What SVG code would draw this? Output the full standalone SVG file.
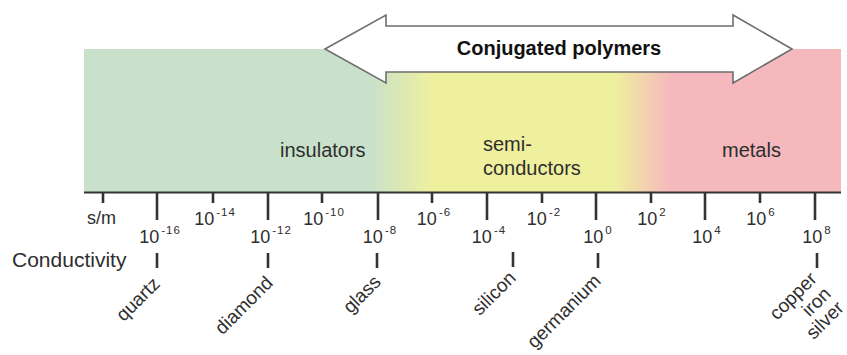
<svg xmlns="http://www.w3.org/2000/svg" width="847" height="355" viewBox="0 0 847 355">
<defs>
<linearGradient id="bandGrad" x1="84" y1="0" x2="841" y2="0" gradientUnits="userSpaceOnUse">
<stop offset="0" stop-color="#c9e1cb"/>
<stop offset="0.378" stop-color="#c9e1cb"/>
<stop offset="0.46" stop-color="#eef09e"/>
<stop offset="0.70" stop-color="#eef09e"/>
<stop offset="0.735" stop-color="#f2d6ac"/>
<stop offset="0.775" stop-color="#f5b9bd"/>
<stop offset="1" stop-color="#f5b9bd"/>
</linearGradient>
<style>
text{font-family:"Liberation Sans",Arial,sans-serif;fill:#2e2e2e}
.region{font-size:20px}
.tick{stroke:#333;stroke-width:2.6}
.axis{stroke:#333;stroke-width:2.2}
.num{font-size:18px;text-anchor:middle}
.sup{font-size:11.5px;letter-spacing:1px}
.mat{font-size:19px;text-anchor:end}
.title{font-size:20px;font-weight:bold;fill:#111;text-anchor:middle}
</style>
</defs>

<g id="band">
<rect x="84" y="49" width="757" height="143" fill="url(#bandGrad)"/>
<text class="region" x="280" y="157">insulators</text>
<text class="region" x="483" y="151">semi-</text>
<text class="region" x="483" y="175">conductors</text>
<text class="region" x="722" y="157">metals</text>
</g>

<g id="conjugated-polymers">
<polygon points="325,49 386,15 386,26 733,26 733,15 792,49 733,83 733,72 386,72 386,83" fill="#ffffff" stroke="#6e6e6e" stroke-width="1.6" stroke-linejoin="miter"/>
<text class="title" x="559" y="55">Conjugated polymers</text>
</g>

<g id="connectors">
<line class="axis" x1="84" y1="192.5" x2="841" y2="192.5"/>
<line class="tick" x1="103" y1="192" x2="103" y2="203"/>
<line class="tick" x1="157" y1="192" x2="157" y2="220"/>
<line class="tick" x1="213" y1="192" x2="213" y2="203"/>
<line class="tick" x1="268" y1="192" x2="268" y2="220"/>
<line class="tick" x1="322" y1="192" x2="322" y2="203"/>
<line class="tick" x1="378" y1="192" x2="378" y2="220"/>
<line class="tick" x1="432" y1="192" x2="432" y2="203"/>
<line class="tick" x1="487" y1="192" x2="487" y2="220"/>
<line class="tick" x1="542" y1="192" x2="542" y2="203"/>
<line class="tick" x1="596" y1="192" x2="596" y2="220"/>
<line class="tick" x1="651" y1="192" x2="651" y2="203"/>
<line class="tick" x1="705" y1="192" x2="705" y2="220"/>
<line class="tick" x1="760" y1="192" x2="760" y2="203"/>
<line class="tick" x1="815" y1="192" x2="815" y2="220"/>
<line class="tick" x1="157" y1="253" x2="157" y2="268"/>
<line class="tick" x1="268" y1="253" x2="268" y2="268"/>
<line class="tick" x1="377" y1="253" x2="377" y2="268"/>
<line class="tick" x1="513" y1="252" x2="513" y2="267"/>
<line class="tick" x1="598" y1="253" x2="598" y2="268"/>
<line class="tick" x1="817" y1="253" x2="817" y2="268"/>
</g>

<g id="scale-labels">
<text x="87" y="224" font-size="18">s/m</text>
<text x="12" y="267" font-size="21">Conductivity</text>
<text class="num" x="215" y="225">10<tspan class="sup" dx="2" dy="-9">-14</tspan></text>
<text class="num" x="324" y="225">10<tspan class="sup" dx="2" dy="-9">-10</tspan></text>
<text class="num" x="434" y="225">10<tspan class="sup" dx="2" dy="-9">-6</tspan></text>
<text class="num" x="544" y="225">10<tspan class="sup" dx="2" dy="-9">-2</tspan></text>
<text class="num" x="652" y="225">10<tspan class="sup" dx="2" dy="-9">2</tspan></text>
<text class="num" x="761" y="225">10<tspan class="sup" dx="2" dy="-9">6</tspan></text>
<text class="num" x="160" y="243">10<tspan class="sup" dx="2" dy="-9">-16</tspan></text>
<text class="num" x="271" y="243">10<tspan class="sup" dx="2" dy="-9">-12</tspan></text>
<text class="num" x="380" y="243">10<tspan class="sup" dx="2" dy="-9">-8</tspan></text>
<text class="num" x="489" y="243">10<tspan class="sup" dx="2" dy="-9">-4</tspan></text>
<text class="num" x="598" y="243">10<tspan class="sup" dx="2" dy="-9">0</tspan></text>
<text class="num" x="707" y="243">10<tspan class="sup" dx="2" dy="-9">4</tspan></text>
<text class="num" x="817" y="243">10<tspan class="sup" dx="2" dy="-9">8</tspan></text>
</g>

<g id="quartz"><text class="mat" transform="translate(161,285) rotate(-45)">quartz</text></g>
<g id="diamond"><text class="mat" transform="translate(274,284) rotate(-45)">diamond</text></g>
<g id="glass"><text class="mat" transform="translate(382,283) rotate(-45)">glass</text></g>
<g id="silicon"><text class="mat" transform="translate(517,279) rotate(-45)">silicon</text></g>
<g id="germanium"><text class="mat" transform="translate(602,282) rotate(-45)">germanium</text></g>
<g id="copper-iron-silver">
<text class="mat" transform="translate(818,280) rotate(-45)">copper</text>
<text class="mat" transform="translate(832,295) rotate(-45)">iron</text>
<text class="mat" transform="translate(845,309) rotate(-45)">silver</text>
</g>
</svg>
